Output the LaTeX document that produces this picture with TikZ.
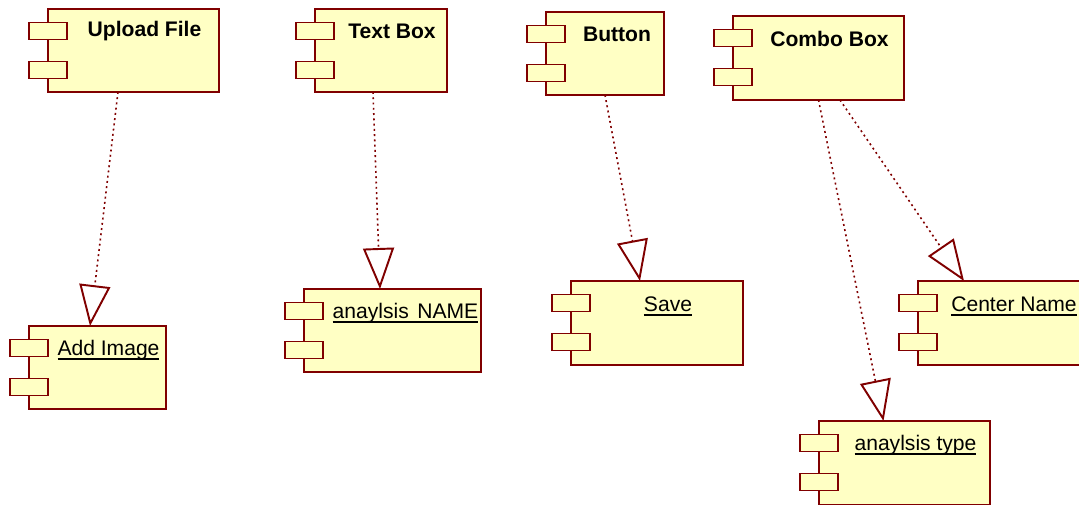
\documentclass[tikz,border=0pt]{standalone}
\usepackage{fontspec}
\setmainfont{Liberation Sans}
\usetikzlibrary{arrows.meta,positioning,calc}
\definecolor{umlred}{RGB}{128,0,0}
\definecolor{umlyellow}{RGB}{255,255,196}
\newcommand{\ulname}[1]{\setbox0\hbox{#1}\leavevmode\rlap{\copy0}\rule[-2.6pt]{\wd0}{0.9pt}}

\begin{document}
\begin{tikzpicture}[x=0.02cm,y=-0.02cm,
  compbody/.style={draw=umlred,fill=umlyellow,line width=1.1pt,inner sep=0pt,outer sep=0pt},
  comptab/.style={draw=umlred,fill=umlyellow,line width=1.1pt,inner sep=0pt,
                  minimum width=0.76cm,minimum height=0.34cm},
  comptitle/.style={font=\fontsize{12}{14}\selectfont\bfseries,inner sep=1pt},
  compname/.style={font=\fontsize{12}{14}\selectfont,inner sep=1pt},
  realize/.style={draw=umlred,line width=0.9pt,dash pattern=on 1.1pt off 1.9pt,
                  -{Triangle[fill=white,length=0.82cm,width=0.62cm,line width=1.1pt]}}]
  \useasboundingbox (0,0) rectangle (1079,504);

  % top row: interface components
  \node[compbody,minimum width=3.42cm,minimum height=1.66cm] (upload)  at (133.5,50.5) {};
  \node[compbody,minimum width=2.64cm,minimum height=1.66cm] (textbox) at (381,50.5) {};
  \node[compbody,minimum width=2.36cm,minimum height=1.66cm] (button)  at (605,53.5) {};
  \node[compbody,minimum width=3.42cm,minimum height=1.68cm] (combo)   at (818.5,58) {};

  % bottom row: realized components
  \node[compbody,minimum width=2.74cm,minimum height=1.66cm] (addimg) at (97.5,367.5) {};
  \node[compbody,minimum width=3.54cm,minimum height=1.66cm] (aname)  at (392.5,330.5) {};
  \node[compbody,minimum width=3.44cm,minimum height=1.68cm] (save)   at (657,323) {};
  \node[compbody,minimum width=3.44cm,minimum height=1.68cm] (center) at (1004,323) {};
  \node[compbody,minimum width=3.42cm,minimum height=1.68cm] (atype)  at (904.5,463) {};

  % the two small tabs on each component
  \foreach \c in {upload,textbox,button,combo,addimg,aname,save,center,atype} {
    \node[comptab] (\c-t1) at ($(\c.north west)+(0,22)$) {};
    \node[comptab] (\c-t2) at ($(\c.north west)+(0,61)$) {};
  }

  % titles
  \node[comptitle] (upload-l)  at ($(upload.north)+(11,22)$)  {Upload File};
  \node[comptitle] (textbox-l) at ($(textbox.north)+(11,22)$) {Text Box};
  \node[comptitle] (button-l)  at ($(button.north)+(12,22)$)  {Button};
  \node[comptitle] (combo-l)   at ($(combo.north)+(11,23)$)   {Combo Box};

  \node[compname] (addimg-l) at ($(addimg.north)+(11,24)$) {\ulname{Add Image}};
  \node[compname] (aname-l)  at ($(aname.north)+(13,24)$)  {\ulname{anaylsis\hspace{0.4em}NAME}};
  \node[compname] (save-l)   at ($(save.north)+(11,25)$)   {\ulname{Save}};
  \node[compname] (center-l) at ($(center.north)+(10,25)$) {\ulname{Center Name}};
  \node[compname] (atype-l)  at ($(atype.north)+(11,24)$)  {\ulname{anaylsis type}};

  % realization links
  \draw[realize] ($(upload.south)+(-15.5,0)$)  -- ($(addimg.north)+(-7.5,0)$);
  \draw[realize] ($(textbox.south)+(-8,0)$)    -- ($(aname.north)+(-12.5,0)$);
  \draw[realize] (button.south)                -- ($(save.north)+(-17,0)$);
  \draw[realize] (combo.south)                 -- ($(atype.north)+(-21,0)$);
  \draw[realize] ($(combo.south)+(21.5,0)$)    -- ($(center.north)+(-40,0)$);
\end{tikzpicture}
\end{document}
